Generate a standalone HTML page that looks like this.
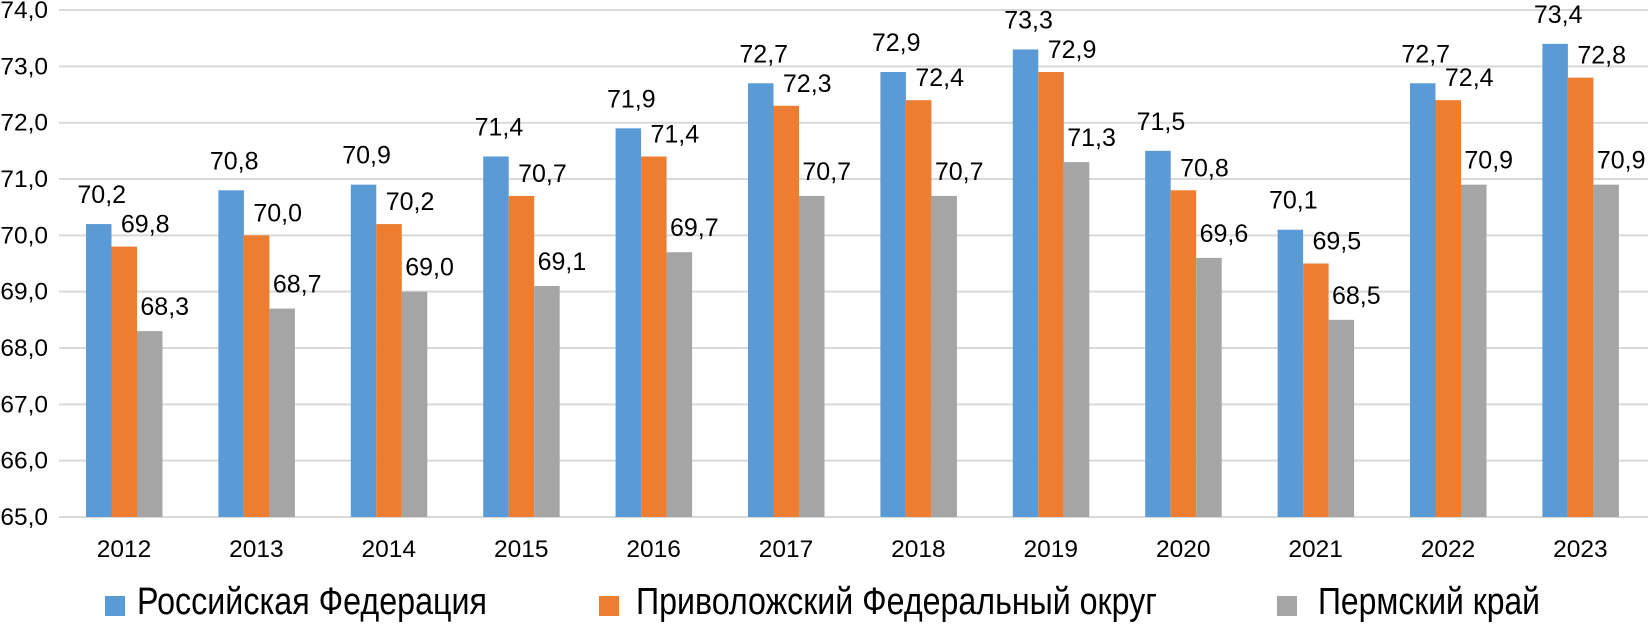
<!DOCTYPE html>
<html><head><meta charset="utf-8"><style>
html,body{margin:0;padding:0;background:#fff;}
svg{display:block;}
text{font-family:"Liberation Sans",sans-serif;fill:#000;}
</style></head><body>
<svg width="1649" height="626" viewBox="0 0 1649 626" xmlns="http://www.w3.org/2000/svg">
<g id="grid" stroke="#D9D9D9" stroke-width="2"></g>
<g id="ylab" font-size="24.5" text-anchor="end"></g>
<g id="bars"></g>
<g id="lbl" font-size="25" text-anchor="middle"></g>
<g id="xlab" font-size="24.5" text-anchor="middle"></g>
<g font-size="38">
<rect x="105" y="596" width="20" height="20" fill="#5B9BD5"/>
<text x="137" y="614" textLength="350" lengthAdjust="spacingAndGlyphs">Российская Федерация</text>
<rect x="599" y="596" width="20" height="20" fill="#ED7D31"/>
<text x="636" y="614" textLength="521" lengthAdjust="spacingAndGlyphs">Приволожский Федеральный округ</text>
<rect x="1277" y="596" width="20" height="20" fill="#A5A5A5"/>
<text x="1318" y="614" textLength="222" lengthAdjust="spacingAndGlyphs">Пермский край</text>
</g>
</svg>
<script>
var ns="http://www.w3.org/2000/svg";
function el(p,t,a,txt){var e=document.createElementNS(ns,t);for(var k in a)e.setAttribute(k,a[k]);if(txt!==undefined)e.textContent=txt;document.getElementById(p).appendChild(e);}
var base=517,u=56.33;
function Y(v){return base-(v-65)*u;}
for(var v=65;v<=74;v++){el('grid','line',{x1:59,x2:1648,y1:Y(v),y2:Y(v)});el('ylab','text',{x:48,y:Y(v)+8},v+',0');}
var d=[[70.2,69.8,68.3],[70.8,70.0,68.7],[70.9,70.2,69.0],[71.4,70.7,69.1],[71.9,71.4,69.7],[72.7,72.3,70.7],[72.9,72.4,70.7],[73.3,72.9,71.3],[71.5,70.8,69.6],[70.1,69.5,68.5],[72.7,72.4,70.9],[73.4,72.8,70.9]];
var col=['#5B9BD5','#ED7D31','#A5A5A5'],dx=[3,21,15],dy=[21,14,16];
for(var i=0;i<12;i++){var x0=86+i*132.4;
for(var j=0;j<3;j++){var x=x0+j*25.5,y=Y(d[i][j]);
el('bars','rect',{x:x,y:y,width:25.5,height:base-y,fill:col[j]});
el('lbl','text',{x:x+12.75+dx[j],y:y-dy[j]},d[i][j].toFixed(1).replace('.',','));}
el('xlab','text',{x:x0+38,y:557},String(2012+i));}
</script>
</body></html>
